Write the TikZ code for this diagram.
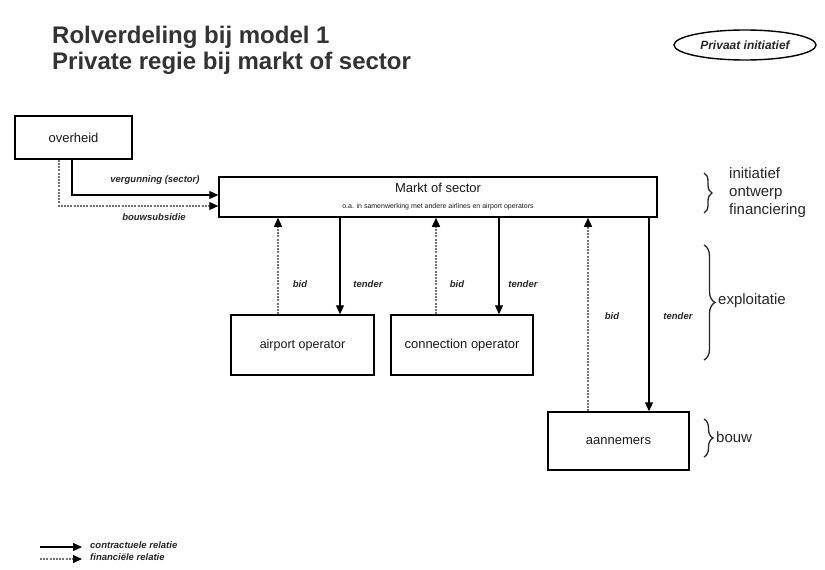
\documentclass[tikz,border=0pt]{standalone}
\usepackage{fontspec}
\setmainfont{Liberation Sans}
\usetikzlibrary{arrows.meta,decorations.pathreplacing,shapes.geometric}

\begin{document}
\begin{tikzpicture}[x=1pt,y=-1pt,
  box/.style={draw=black, line width=1.5pt, inner sep=0pt, text=black!90,
    font=\fontsize{13}{15}\selectfont},
  tip/.style={-{Triangle[length=9pt,width=8pt,color=black]}},
  contract/.style={tip, draw=black, line width=1.2pt},
  fin/.style={tip, draw=black!55, line width=1.2pt, dash pattern=on 2pt off 1.2pt},
  lbl/.style={inner sep=0pt, text=black!85, font=\fontsize{9.5}{11}\selectfont\bfseries\itshape},
  curly/.style={draw=black!85, line width=1.3pt, decorate,
    decoration={brace, amplitude=#1}},
  side/.style={inner sep=0pt, anchor=west, text=black!85, font=\fontsize{15}{18}\selectfont},
  title/.style={inner sep=0pt, anchor=base west, text=black!80,
    font=\fontsize{24}{26}\selectfont\bfseries}]

% page
\fill[white] (0,0) rectangle (825,570);
\useasboundingbox (0,0) rectangle (825,570);

% heading
\node[title] (title1) at (52,43) {Rolverdeling bij model 1};
\node[title] (title2) at (52,69) {Private regie bij markt of sector};

\node[draw=black, line width=1.4pt, ellipse, minimum width=142pt, minimum height=30pt,
  inner sep=0pt, font=\fontsize{12}{14}\selectfont\bfseries\itshape, text=black!85]
  (privaat) at (745,45) {Privaat initiatief};

% boxes
\node[box, minimum width=117pt, minimum height=43pt] (overheid) at (73.5,137.5) {overheid};
\node[box, minimum width=438pt, minimum height=40pt, align=center] (markt) at (438,197)
  {Markt of sector\\[1pt]{\fontsize{7}{8}\selectfont o.a. in samenwerking met andere airlines en airport operators}};
\node[box, minimum width=143pt, minimum height=60pt, font=\fontsize{12.5}{15}\selectfont]
  (airport) at (302.5,345) {airport operator};
\node[box, minimum width=142pt, minimum height=60pt] (connection) at (462,345) {connection operator};
\node[box, minimum width=141pt, minimum height=58pt] (aannemers) at (618.5,441) {aannemers};

% overheid -> markt
\draw[contract] ([xshift=-1.5pt]overheid.south) |- ([yshift=2pt]markt.west);
\draw[fin] ([xshift=-14.5pt]overheid.south) |- ([yshift=-9pt]markt.west);
\node[lbl] (vergunning) at (155,180) {vergunning (sector)};
\node[lbl] (bouwsubsidie) at (154,217) {bouwsubsidie};

% bid / tender relations
\draw[fin] ([xshift=-24.5pt]airport.north) -- ([xshift=-24.5pt]airport.north |- markt.south);
\draw[contract] ([xshift=37.5pt]airport.north |- markt.south) -- ([xshift=37.5pt]airport.north);
\draw[fin] ([xshift=-26pt]connection.north) -- ([xshift=-26pt]connection.north |- markt.south);
\draw[contract] ([xshift=37pt]connection.north |- markt.south) -- ([xshift=37pt]connection.north);
\draw[fin] ([xshift=-30.5pt]aannemers.north) -- ([xshift=-30.5pt]aannemers.north |- markt.south);
\draw[contract] ([xshift=30.5pt]aannemers.north |- markt.south) -- ([xshift=30.5pt]aannemers.north);

\node[lbl] (bid1) at (300,284) {bid};
\node[lbl] (tender1) at (368,284) {tender};
\node[lbl] (bid2) at (457,284) {bid};
\node[lbl] (tender2) at (523,284) {tender};
\node[lbl] (bid3) at (612,316) {bid};
\node[lbl] (tender3) at (678,316) {tender};

% phases
\draw[curly=8pt] (704,173) -- (704,213);
\node[side, align=left] (fase1) at (729,193) {initiatief\\ontwerp\\financiering};
\draw[curly=11pt] (704,245) -- (704,360);
\node[side] (fase2) at (718,301) {exploitatie};
\draw[curly=9pt] (704,419) -- (704,457);
\node[side] (fase3) at (716,437) {bouw};

% legend
\coordinate (la) at (40,547);
\coordinate (lb) at (82,547);
\coordinate (lc) at (40,559);
\coordinate (ld) at (82,559);
\draw[contract] (la) -- (lb);
\draw[fin] (lc) -- (ld);
\node[lbl, anchor=west] (leg1) at (90,545) {contractuele relatie};
\node[lbl, anchor=west] (leg2) at (90,557) {financiële relatie};
\end{tikzpicture}
\end{document}
